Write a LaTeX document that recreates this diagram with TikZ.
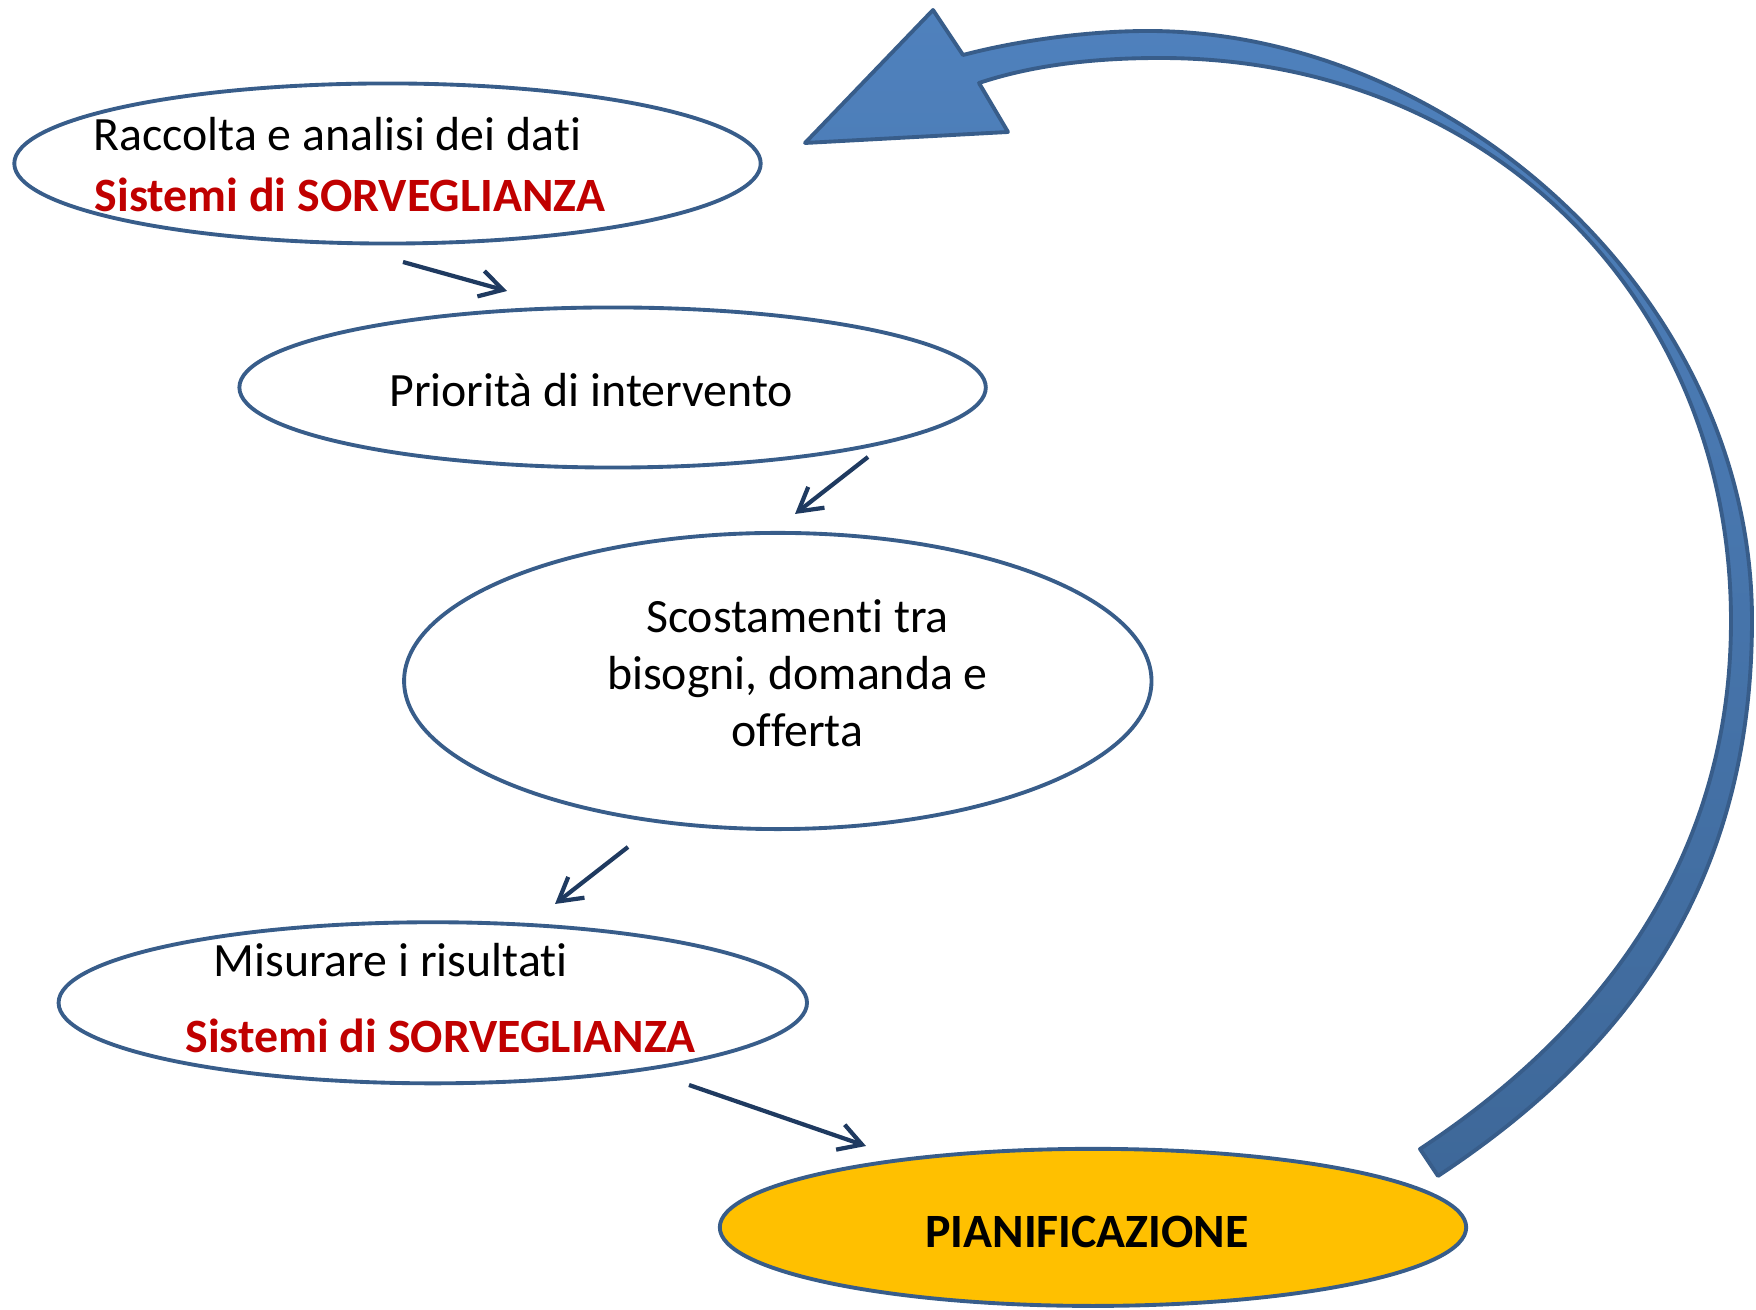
\documentclass[tikz,border=0pt]{standalone}
\usepackage{fontspec}
\setmainfont[Ligatures=NoCommon]{Carlito}
\usetikzlibrary{shapes.geometric,arrows.meta}
\definecolor{ellborder}{HTML}{385D8A}
\definecolor{survred}{HTML}{C00000}
\definecolor{planfill}{HTML}{FFC000}
\definecolor{smallarr}{HTML}{1F3A60}
\definecolor{arrtop}{HTML}{4F81BD}
\definecolor{arrbot}{HTML}{3E6899}
\begin{document}
\begin{tikzpicture}[x=0.01cm,y=-0.01cm,
  stage/.style={ellipse, draw=ellborder, line width=1.1pt, inner sep=0pt},
  txt/.style={font=\fontsize{13.6pt}{16.2pt}\selectfont, inner sep=0pt},
  boldtxt/.style={txt, font=\fontsize{13.6pt}{16.2pt}\selectfont\bfseries},
  survtxt/.style={boldtxt, text=survred},
  smallarrow/.style={draw=smallarr, line width=1.2pt, -{Straight Barb[length=6.5pt,width=7.5pt]}},
  bigarrow/.style={draw=ellborder, line width=1.1pt, line join=round, top color=arrtop, bottom color=arrbot}
]
\useasboundingbox (0,0) rectangle (1756,1310);

% big curved arrow
\path[bigarrow]
 (805,143) -- (933,10) -- (963,55)
 .. controls (1020,40) and (1090,31) .. (1148,31)
 .. controls (1450,31) and (1752,295) .. (1752,620)
 .. controls (1752,890) and (1621,1055) .. (1438,1176)
 -- (1420,1149)
 .. controls (1587,1039) and (1731,871) .. (1731,621)
 .. controls (1731,300) and (1490,58) .. (1160,58)
 .. controls (1090,58) and (1030,66) .. (979,83)
 -- (1008,132) -- cycle;

% ellipses
\node[stage, minimum width=7.46cm, minimum height=1.6cm] (e1) at (387.5,163.5) {};
\node[stage, minimum width=7.46cm, minimum height=1.6cm] (e2) at (612.6,387.5) {};
\node[stage, minimum width=7.47cm, minimum height=2.96cm] (e3) at (777.8,681) {};
\node[stage, minimum width=7.48cm, minimum height=1.61cm] (e4) at (432.8,1002.8) {};
\node[stage, fill=planfill, minimum width=7.46cm, minimum height=1.57cm] (e5) at (1093,1227.4) {};

% texts
\node[txt, anchor=base west] (t1) at (93,151) {Raccolta e analisi dei dati};
\node[survtxt, anchor=base west] (t1b) at (94,211.7) {Sistemi di SORVEGLIANZA};
\node[txt, anchor=base west] (t2) at (388.6,406.5) {Priorità di intervento};
\node[txt, align=center, anchor=center] (t3) at (797.5,673) {Scostamenti tra\\bisogni, domanda e\\offerta};
\node[txt, anchor=base west] (t4) at (212.8,976.6) {Misurare i risultati};
\node[survtxt, anchor=base west] (t4b) at (184.8,1052.8) {Sistemi di SORVEGLIANZA};
\node[boldtxt, anchor=base] (t5) at (1087,1247.6) {PIANIFICAZIONE};

% small arrows
\coordinate (a1s) at (403,262); \coordinate (a1e) at (507,291);
\coordinate (a2s) at (868,457); \coordinate (a2e) at (795,514);
\coordinate (a3s) at (628,847); \coordinate (a3e) at (555,904);
\coordinate (a4s) at (689,1085); \coordinate (a4e) at (866,1146);
\draw[smallarrow] (a1s) -- (a1e);
\draw[smallarrow] (a2s) -- (a2e);
\draw[smallarrow] (a3s) -- (a3e);
\draw[smallarrow] (a4s) -- (a4e);
\end{tikzpicture}
\end{document}
